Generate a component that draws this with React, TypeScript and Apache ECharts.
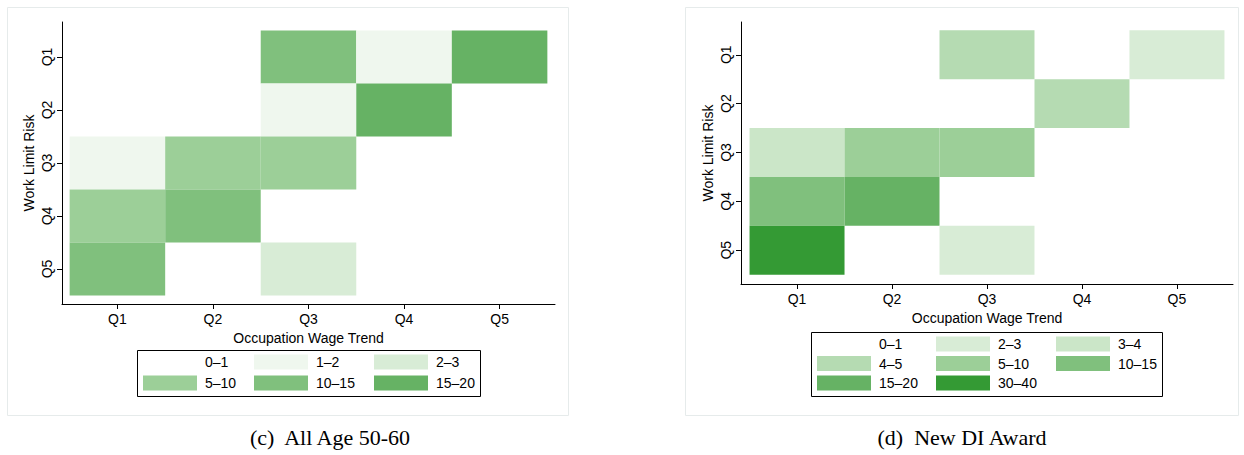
import React, { useEffect, useRef } from "react";
import * as echarts from "echarts";

const quintiles = ["Q1", "Q2", "Q3", "Q4", "Q5"];
const bins = ["0–1", "1–2", "2–3", "3–4", "4–5", "5–10", "10–15", "15–20", "30–40"];
const binColors = ["#ffffff", "#eff7ee", "#d8ecd6", "#cbe6c8", "#b5dbb2", "#9ccf98", "#80c07d", "#66b264", "#349a34"];

// [occupation wage trend (x), work limit risk (y), bin label]
const cellsC: [number, number, string][] = [
  [3, 1, "10–15"], [4, 1, "1–2"], [5, 1, "15–20"],
  [3, 2, "1–2"], [4, 2, "15–20"],
  [1, 3, "1–2"], [2, 3, "5–10"], [3, 3, "5–10"],
  [1, 4, "5–10"], [2, 4, "10–15"],
  [1, 5, "10–15"], [3, 5, "2–3"],
];
const cellsD: [number, number, string][] = [
  [3, 1, "4–5"], [5, 1, "2–3"],
  [4, 2, "4–5"],
  [1, 3, "3–4"], [2, 3, "5–10"], [3, 3, "5–10"],
  [1, 4, "10–15"], [2, 4, "15–20"],
  [1, 5, "30–40"], [3, 5, "2–3"],
];
const legendC = ["0–1", "1–2", "2–3", "5–10", "10–15", "15–20"];
const legendD = ["0–1", "2–3", "3–4", "4–5", "5–10", "10–15", "15–20", "30–40"];
const captionC = "(c)  All Age 50-60";
const captionD = "(d)  New DI Award";
const xName = "Occupation Wage Trend";
const yName = "Work Limit Risk";

const colorOf = (b: string) => binColors[bins.indexOf(b)];
const FONT = "Liberation Sans, Arial, sans-serif";

function legendGraphics(items: string[], x0: number, y0: number, w: number, h: number, colX: number[], rowY: number[]) {
  const g: any[] = [{ type: "rect", shape: { x: x0, y: y0, width: w, height: h }, style: { fill: "#fff", stroke: "#000", lineWidth: 1 } }];
  items.forEach((b, i) => {
    const cx = colX[i % 3];
    const cy = rowY[Math.floor(i / 3)];
    g.push({ type: "rect", shape: { x: cx, y: cy - 7.5, width: 54, height: 15 }, style: { fill: colorOf(b) } });
    g.push({ type: "text", x: cx + 62, y: cy, style: { text: b, fill: "#000", font: `14px ${FONT}`, verticalAlign: "middle" } });
  });
  return g;
}

export default function App() {
  const ref = useRef<HTMLDivElement>(null);
  useEffect(() => {
    const chart = echarts.init(ref.current!, null, { renderer: "svg" });
    const axisCommon = {
      axisLine: { show: true, onZero: false, lineStyle: { color: "#000", width: 1 } },
      axisTick: { show: true, length: 5, customValues: [1, 2, 3, 4, 5], lineStyle: { color: "#000" } },
      axisLabel: { customValues: [1, 2, 3, 4, 5], formatter: (v: number) => quintiles[Math.round(v) - 1], color: "#000", fontSize: 14, fontFamily: FONT },
      splitLine: { show: false },
      nameLocation: "middle" as const,
      nameTextStyle: { color: "#000", fontSize: 14, fontFamily: FONT },
    };
    const renderItem = (params: any, api: any) => {
      const x = api.value(0), y = api.value(1);
      const p1 = api.coord([x - 0.5, y - 0.5]);
      const p2 = api.coord([x + 0.5, y + 0.5]);
      return {
        type: "rect",
        shape: { x: Math.min(p1[0], p2[0]), y: Math.min(p1[1], p2[1]), width: Math.abs(p2[0] - p1[0]), height: Math.abs(p2[1] - p1[1]) },
        style: { fill: colorOf(bins[api.value(2)]) },
      };
    };
    const toData = (cells: [number, number, string][]) => cells.map(([x, y, b]) => [x, y, bins.indexOf(b)]);
    chart.setOption({
      animation: false,
      grid: [
        { left: 62, top: 22, width: 493, height: 282 },
        { left: 741, top: 22, width: 492, height: 262 },
      ],
      xAxis: [
        { ...axisCommon, type: "value", gridIndex: 0, min: 0.42, max: 5.58, name: xName, nameGap: 23 },
        { ...axisCommon, type: "value", gridIndex: 1, min: 0.41, max: 5.59, name: xName, nameGap: 23 },
      ],
      yAxis: [
        { ...axisCommon, type: "value", gridIndex: 0, inverse: true, min: 0.34, max: 5.66, name: yName, nameGap: 26,
          axisLabel: { ...axisCommon.axisLabel, rotate: 90, margin: 8 } },
        { ...axisCommon, type: "value", gridIndex: 1, inverse: true, min: 0.33, max: 5.69, name: yName, nameGap: 26,
          axisLabel: { ...axisCommon.axisLabel, rotate: 90, margin: 8 } },
      ],
      series: [
        { type: "custom", xAxisIndex: 0, yAxisIndex: 0, renderItem, data: toData(cellsC), silent: true },
        { type: "custom", xAxisIndex: 1, yAxisIndex: 1, renderItem, data: toData(cellsD), silent: true },
      ],
      graphic: [
        { type: "rect", shape: { x: 7.5, y: 7.5, width: 561, height: 408 }, style: { fill: "none", stroke: "#e6ebeb", lineWidth: 1 } },
        { type: "rect", shape: { x: 685.5, y: 7.5, width: 553, height: 408 }, style: { fill: "none", stroke: "#e6ebeb", lineWidth: 1 } },
        ...legendGraphics(legendC, 137.5, 350.5, 343, 46, [143, 254, 374], [362, 383]),
        ...legendGraphics(legendD, 811.5, 332.5, 351, 64, [817, 936, 1056], [344, 363.5, 383]),
        { type: "text", x: 330, y: 437, style: { text: captionC, fill: "#000", font: "22px Liberation Serif, serif", align: "center", verticalAlign: "middle" } },
        { type: "text", x: 962, y: 437, style: { text: captionD, fill: "#000", font: "22px Liberation Serif, serif", align: "center", verticalAlign: "middle" } },
      ],
    });
    return () => chart.dispose();
  }, []);
  return <div ref={ref} style={{ position: "fixed", left: 0, top: 0, width: 1244, height: 455, background: "#fff" }} />;
}
